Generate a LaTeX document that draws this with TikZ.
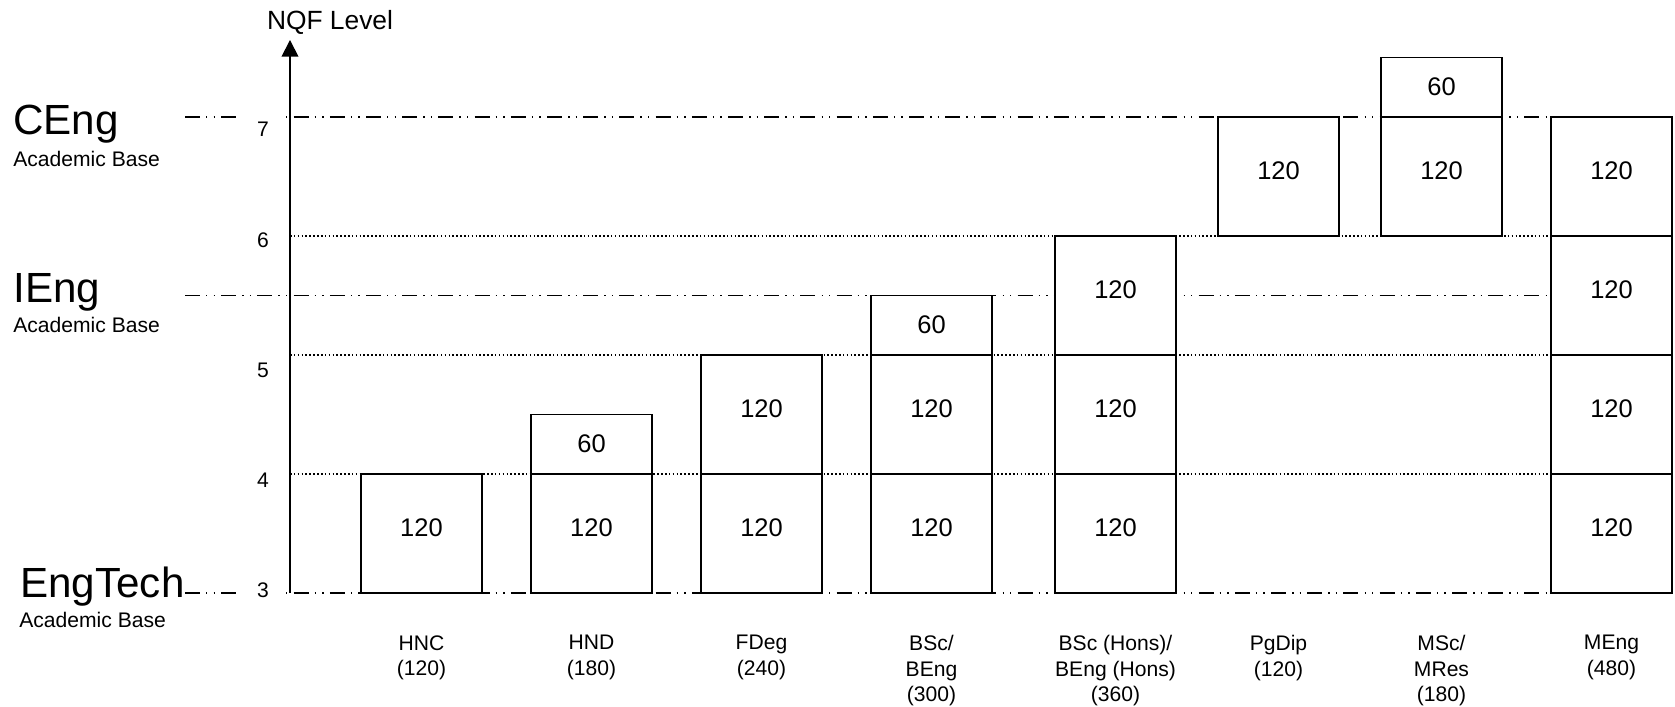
\documentclass[tikz,border=0pt]{standalone}
\usepackage{fontspec}
\setmainfont{Liberation Sans}
\usetikzlibrary{arrows.meta}
\begin{document}
\begin{tikzpicture}[x=1cm, y=2.38cm, >={Triangle[length=9.5pt,width=9.5pt]},
      font=\fontsize{12}{14.5}\selectfont,
      box/.style={draw, line width=1pt, fill=white, inner sep=0pt, minimum width=2.42cm, font=\fontsize{14.5}{17}\selectfont},
      full/.style={box, minimum height=2.38cm, text depth=6.5pt},
      half/.style={box, minimum height=1.19cm},
      grade/.style={line width=1pt, dash pattern=on 8.5pt off 3.5pt on 0.8pt off 3.5pt on 0.8pt off 3.5pt},
      guide/.style={line width=0.8pt, dash pattern=on 0.9pt off 1.3pt},
      lvl/.style={fill=white, inner sep=0pt, minimum width=0.9cm, minimum height=0.9cm},
      qual/.style={align=center, anchor=north, inner sep=0pt},
      gradename/.style={anchor=base west, inner sep=0pt, font=\fontsize{24}{28}\selectfont},
      acad/.style={anchor=base west, inner sep=0pt}]
    \useasboundingbox (0,2.042) rectangle (33.5,7.983);
    % grade thresholds and level lines
    \draw[grade] (3.70,7) -- (31.02,7);
    \draw[grade] (3.70,5.5) -- (31.02,5.5);
    \draw[grade] (3.70,3) -- (31.02,3);
    \draw[guide] (5.80,6) -- (31.02,6);
    \draw[guide] (5.80,5) -- (31.02,5);
    \draw[guide] (5.80,4) -- (31.02,4);
    \node[lvl] (lv7) at (5.26,6.899) {7};
    \node[lvl] (lv6) at (5.26,5.966) {6};
    \node[lvl] (lv5) at (5.26,4.874) {5};
    \node[lvl] (lv4) at (5.26,3.950) {4};
    \node[lvl] (lv3) at (5.26,3.025) {3};
    % axis
    \coordinate (origin) at (5.80,3);
    \coordinate (axtop) at (5.80,7.647);
    \draw[->, line width=1pt] (origin) -- (axtop);
    \node[anchor=base, inner sep=0pt, font=\fontsize{15}{18}\selectfont] (nqf) at (6.60,7.737) {NQF Level};
    % registration grades
    \node[gradename] (ceng) at (0.26,6.849) {CEng};
    \node[acad] (cengbase) at (0.26,6.588) {Academic Base};
    \node[gradename] (ieng) at (0.26,5.437) {IEng};
    \node[acad] (iengbase) at (0.26,5.193) {Academic Base};
    \node[gradename] (engtech) at (0.40,2.958) {EngTech};
    \node[acad] (engtechbase) at (0.38,2.706) {Academic Base};
    % credit stacks
    \node[full] (hnc3) at (8.43,3.5) {120};
    \node[full] (hnd3) at (11.83,3.5) {120};
    \node[half] (hnd4) at (11.83,4.25) {60};
    \node[full] (fdeg3) at (15.23,3.5) {120};
    \node[full] (fdeg4) at (15.23,4.5) {120};
    \node[full] (bsc3) at (18.63,3.5) {120};
    \node[full] (bsc4) at (18.63,4.5) {120};
    \node[half] (bsc5) at (18.63,5.25) {60};
    \node[full] (hons3) at (22.31,3.5) {120};
    \node[full] (hons4) at (22.31,4.5) {120};
    \node[full] (hons5) at (22.31,5.5) {120};
    \node[full] (pgdip6) at (25.57,6.5) {120};
    \node[full] (msc6) at (28.83,6.5) {120};
    \node[half] (msc7) at (28.83,7.25) {60};
    \node[full] (meng3) at (32.23,3.5) {120};
    \node[full] (meng4) at (32.23,4.5) {120};
    \node[full] (meng5) at (32.23,5.5) {120};
    \node[full] (meng6) at (32.23,6.5) {120};
    % qualification names
    \node[qual] (lhnc) at (8.43,2.647) {HNC\\(120)};
    \node[qual] (lhnd) at (11.83,2.647) {HND\\(180)};
    \node[qual] (lfdeg) at (15.23,2.647) {FDeg\\(240)};
    \node[qual] (lbsc) at (18.63,2.647) {BSc/\\BEng\\(300)};
    \node[qual] (lhons) at (22.31,2.647) {BSc (Hons)/\\BEng (Hons)\\(360)};
    \node[qual] (lpgdip) at (25.57,2.647) {PgDip\\(120)};
    \node[qual] (lmsc) at (28.83,2.647) {MSc/\\MRes\\(180)};
    \node[qual] (lmeng) at (32.23,2.647) {MEng\\(480)};
  \end{tikzpicture}
\end{document}
